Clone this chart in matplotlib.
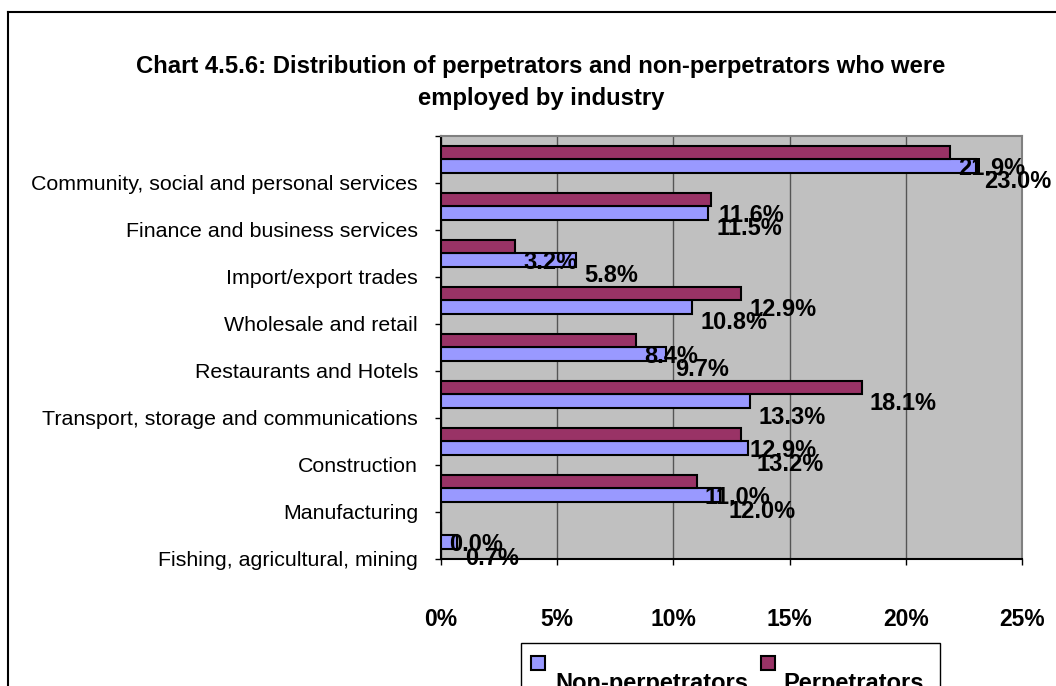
import matplotlib
matplotlib.use("Agg")
import matplotlib.pyplot as plt
import numpy as np
from matplotlib.patches import Rectangle
from matplotlib.lines import Line2D

plt.rcParams['font.family'] = ['Liberation Sans', 'DejaVu Sans']

categories = [
    "Fishing, agricultural, mining",
    "Manufacturing",
    "Construction",
    "Transport, storage and communications",
    "Restaurants and Hotels",
    "Wholesale and retail",
    "Import/export trades",
    "Finance and business services",
    "Community, social and personal services",
]
non_perpetrators = [0.7, 12.0, 13.2, 13.3, 9.7, 10.8, 5.8, 11.5, 23.0]
perpetrators = [0.0, 11.0, 12.9, 18.1, 8.4, 12.9, 3.2, 11.6, 21.9]
x_ticks = [0, 5, 10, 15, 20, 25]
x_tick_labels = ["0%", "5%", "10%", "15%", "20%", "25%"]
title = "Chart 4.5.6: Distribution of perpetrators and non-perpetrators who were\nemployed by industry"

W, H = 1056, 686
fig = plt.figure(figsize=(W / 100, H / 100), dpi=100)

# figure border (left and top visible)
fig.add_artist(Line2D([7.5 / W, 7.5 / W], [0, 1 - 11.5 / H], transform=fig.transFigure, color='black', lw=1.5))
fig.add_artist(Line2D([7.5 / W, 1], [1 - 11.5 / H, 1 - 11.5 / H], transform=fig.transFigure, color='black', lw=1.5))

ax = fig.add_axes([441 / W, 1 - 559 / H, (1022 - 441) / W, (559 - 135.5) / H])
ax.set_facecolor('#C0C0C0')

y = np.arange(len(categories))
bh = 0.287
blue = '#9999FF'
plum = '#993366'
ax.barh(y - bh / 2, non_perpetrators, height=bh, color=blue, edgecolor='black', linewidth=1.5, zorder=3)
ax.barh(y + bh / 2, perpetrators, height=bh, color=plum, edgecolor='black', linewidth=1.5, zorder=3)

for yi, v in zip(y, perpetrators):
    ax.annotate(f"{v:.1f}%", xy=(v, yi + bh / 2), xytext=(6, -11.5), textcoords='offset points',
                ha='left', va='center', fontsize=17, fontweight='bold', zorder=5, annotation_clip=False)
for yi, v in zip(y, non_perpetrators):
    ax.annotate(f"{v:.1f}%", xy=(v, yi - bh / 2), xytext=(6, -11.5), textcoords='offset points',
                ha='left', va='center', fontsize=17, fontweight='bold', zorder=5, annotation_clip=False)

ax.set_xlim(0, 25)
ax.set_ylim(-0.5, len(categories) - 0.5)
ax.set_xticks(x_ticks)
ax.set_xticklabels(x_tick_labels, fontsize=16.5, fontweight='bold')
ax.set_yticks(np.arange(-0.5, len(categories), 1.0))
ax.set_yticklabels(categories + [""], fontsize=15.4)
ax.tick_params(axis='y', direction='out', length=4.5, width=1, pad=12)
ax.tick_params(axis='x', direction='out', length=4.5, width=1, pad=31)

ax.xaxis.grid(True, color='#555555', linewidth=1, zorder=1)
ax.set_axisbelow(True)
for s in ['left', 'bottom']:
    ax.spines[s].set_color('black')
    ax.spines[s].set_linewidth(1.5)
for s in ['top', 'right']:
    ax.spines[s].set_color('#808080')
    ax.spines[s].set_linewidth(1.5)

fig.text(541 / W, 1 - 82 / H, title, ha='center', va='center', fontsize=17.2, fontweight='bold',
         linespacing=1.5)

# legend (cut off at bottom of figure)
fig.add_artist(Rectangle((521 / W, -0.1), (940 - 521) / W, (1 - 643 / H) + 0.1, transform=fig.transFigure,
                         facecolor='white', edgecolor='black', lw=1))
fig.add_artist(Rectangle((531 / W, 1 - 670 / H), 14 / W, 14 / H, transform=fig.transFigure,
                         facecolor=blue, edgecolor='black', lw=1.5))
fig.add_artist(Rectangle((761 / W, 1 - 670 / H), 14 / W, 14 / H, transform=fig.transFigure,
                         facecolor=plum, edgecolor='black', lw=1.5))
fig.text(555 / W, 1 - 690 / H, "Non-perpetrators", ha='left', va='baseline', fontsize=17, fontweight='bold')
fig.text(783 / W, 1 - 690 / H, "Perpetrators", ha='left', va='baseline', fontsize=17, fontweight='bold')

fig.savefig("out.png", dpi=100)
